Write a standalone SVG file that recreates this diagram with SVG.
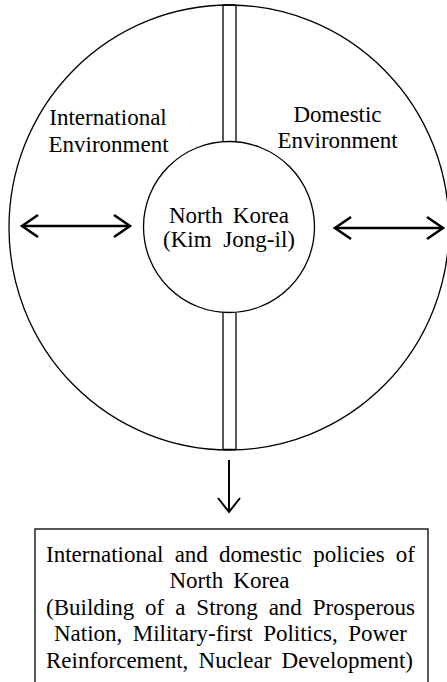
<svg xmlns="http://www.w3.org/2000/svg" width="447" height="682" viewBox="0 0 447 682">
  <defs>
    <style>
      .line { fill: none; stroke: #000; stroke-width: 1.3; }
      .arrow { fill: none; stroke: #000; stroke-width: 2.6; stroke-linecap: butt; stroke-linejoin: miter; }
      .thin { fill: none; stroke: #000; stroke-width: 2; }
      text { font-family: "Liberation Serif", "Times New Roman", serif; font-size: 23px; fill: #000; text-anchor: middle; }
    </style>
  </defs>

  <!-- Outer environment ring -->
  <g id="environment">
    <ellipse class="line" cx="229" cy="227.5" rx="220" ry="222.5"/>
    <text x="108" y="125">International</text>
    <text x="108.5" y="151.5">Environment</text>
    <text x="337.5" y="121.5">Domestic</text>
    <text x="337.5" y="147.5">Environment</text>
  </g>

  <!-- Divider bars splitting the ring -->
  <g id="dividers">
    <path class="line" d="M223 5 V142 M236 5 V142 M223 5 H236"/>
    <path class="line" d="M223 313 V449.5 M236 313 V449.5 M223 449.5 H236"/>
  </g>

  <!-- Central node -->
  <g id="north-korea">
    <circle class="line" cx="229" cy="227" r="85.5"/>
    <text x="229" y="223" word-spacing="4.4" textLength="120" lengthAdjust="spacing">North Korea</text>
    <text x="229" y="247" word-spacing="6" textLength="132" lengthAdjust="spacing">(Kim Jong-il)</text>
  </g>

  <!-- Policy outcome box -->
  <g id="policies">
    <rect class="line" x="35" y="529" width="393" height="165"/>
    <text x="230.5" y="562" word-spacing="5.4" textLength="369" lengthAdjust="spacing">International and domestic policies of</text>
    <text x="229.5" y="588" word-spacing="4.4" textLength="120" lengthAdjust="spacing">North Korea</text>
    <text x="230.5" y="614.5" word-spacing="5.2" textLength="369" lengthAdjust="spacing">(Building of a Strong and Prosperous</text>
    <text x="230.5" y="641" word-spacing="4.7" textLength="353" lengthAdjust="spacing">Nation, Military-first Politics, Power</text>
    <text x="229.5" y="667.5" word-spacing="4.5" textLength="367" lengthAdjust="spacing">Reinforcement, Nuclear Development)</text>
  </g>

  <!-- Connectors -->
  <g id="connectors">
    <!-- left two-way arrow -->
    <path class="arrow" d="M23 226 H128"/>
    <path class="arrow" d="M38 215 L22 226 L38 237"/>
    <path class="arrow" d="M114 215 L130 226 L114 237"/>
    <!-- right two-way arrow -->
    <path class="arrow" d="M336 228 H441"/>
    <path class="arrow" d="M351 217 L335 228 L351 239"/>
    <path class="arrow" d="M427 217 L443 228 L427 239"/>
    <!-- down arrow to policies -->
    <path class="thin" d="M229 460 V511"/>
    <path class="thin" d="M218 498 L229 512 L240 498"/>
  </g>
</svg>
